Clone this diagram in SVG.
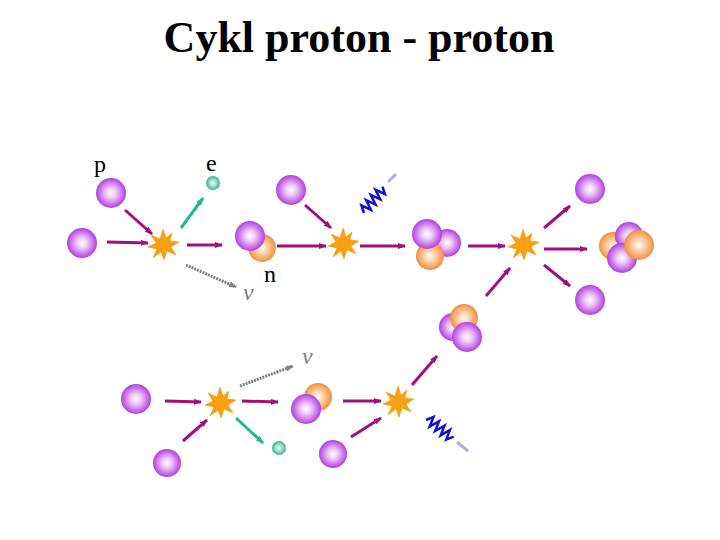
<svg xmlns="http://www.w3.org/2000/svg" width="720" height="540" viewBox="0 0 720 540">
<defs>
<radialGradient id="gp" cx="0.5" cy="0.5" r="0.5"><stop offset="0" stop-color="#fff"/><stop offset="0.35" stop-color="#f0c8f8"/><stop offset="1" stop-color="#b040e0"/></radialGradient>
<radialGradient id="go" cx="0.5" cy="0.5" r="0.5"><stop offset="0" stop-color="#fff"/><stop offset="0.35" stop-color="#fcd8b0"/><stop offset="1" stop-color="#f09040"/></radialGradient>
<radialGradient id="ge" cx="0.5" cy="0.5" r="0.5"><stop offset="0" stop-color="#fff"/><stop offset="1" stop-color="#30b890"/></radialGradient>
<marker id="am" markerWidth="8" markerHeight="6" refX="7" refY="3" orient="auto" markerUnits="userSpaceOnUse"><path d="M0,0L8,3L0,6z" fill="#a0107a"/></marker>
<marker id="at" markerWidth="8" markerHeight="6" refX="7" refY="3" orient="auto" markerUnits="userSpaceOnUse"><path d="M0,0L8,3L0,6z" fill="#20b890"/></marker>
<marker id="ag" markerWidth="8" markerHeight="6" refX="7" refY="3" orient="auto" markerUnits="userSpaceOnUse"><path d="M0,0L8,3L0,6z" fill="#808080"/></marker>
<polygon id="star" points="0,-16 3,-7 9,-12 7,-4 16,-3 8,2 13,10 4,6 1,15 -2,7 -10,13 -6,4 -15,2 -7,-2 -12,-10 -3,-6" fill="#f8a010" stroke="#f09000" stroke-width="0.5"/>
<path id="wave" d="M0,0 l4,-7 l3,10 l4,-10 l3,10 l4,-10 l3,10 l4,-10 l3,10 l4,-7" fill="none" stroke="#1010d0" stroke-width="2.5"/>
</defs>
<style>
.m{stroke:#a0107a;stroke-width:3;marker-end:url(#am)}
.t{stroke:#20b890;stroke-width:3;marker-end:url(#at)}
.g{stroke:#808080;stroke-width:3;stroke-dasharray:2 1;marker-end:url(#ag)}
.lb{font-family:"Liberation Serif",serif;font-size:24px}
</style>
<text x="359" y="52" text-anchor="middle" font-family="Liberation Serif,serif" font-weight="bold" font-size="44">Cykl proton - proton</text>
<g id="labels">
<text class="lb" x="94" y="172">p</text>
<text class="lb" x="206" y="171">e</text>
<text class="lb" x="264" y="282">n</text>
<text class="lb" x="243" y="300" font-style="italic" fill="#808080">ν</text>
<text class="lb" x="302" y="364" font-style="italic" fill="#808080">ν</text>
</g>
<g id="connectors">
<line class="m" x1="125" y1="210" x2="152" y2="234"/>
<line class="m" x1="107" y1="242" x2="148" y2="243"/>
<line class="t" x1="181" y1="228" x2="203" y2="198"/>
<line class="g" x1="186" y1="265" x2="236" y2="287"/>
<line class="m" x1="187" y1="245" x2="222" y2="245"/>
<line class="m" x1="305" y1="205" x2="331" y2="228"/>
<line class="m" x1="277" y1="246" x2="326" y2="246"/>
<line class="m" x1="360" y1="246" x2="405" y2="246"/>
<line class="m" x1="468" y1="246" x2="505" y2="246"/>
<line class="m" x1="486" y1="296" x2="510" y2="268"/>
<line class="m" x1="544" y1="228" x2="570" y2="206"/>
<line class="m" x1="544" y1="249" x2="587" y2="249"/>
<line class="m" x1="544" y1="265" x2="570" y2="286"/>
<line class="m" x1="165" y1="401" x2="201" y2="402"/>
<line class="m" x1="183" y1="441" x2="207" y2="420"/>
<line class="g" x1="240" y1="386" x2="293" y2="366"/>
<line class="t" x1="236" y1="418" x2="263" y2="443"/>
<line class="m" x1="242" y1="401" x2="278" y2="402"/>
<line class="m" x1="343" y1="401" x2="381" y2="401"/>
<line class="m" x1="351" y1="437" x2="381" y2="418"/>
<line class="m" x1="412" y1="385" x2="437" y2="356"/>
<line x1="388" y1="182" x2="396" y2="174" stroke="#b0b0e0" stroke-width="3"/>
<use href="#wave" transform="translate(364,213) rotate(-48)"/>
<line x1="457" y1="442" x2="468" y2="451" stroke="#b0b0e0" stroke-width="3"/>
<use href="#wave" transform="translate(426,420) rotate(38)"/>
</g>
<g id="stars">
<use href="#star" x="163" y="245"/>
<use href="#star" x="343" y="244"/>
<use href="#star" x="523" y="245"/>
<use href="#star" x="220" y="403"/>
<use href="#star" x="398" y="402"/>
</g>
<g id="particles">
<circle cx="111" cy="193" r="15" fill="url(#gp)"/>
<circle cx="82" cy="243" r="15" fill="url(#gp)"/>
<circle cx="213" cy="183" r="7" fill="url(#ge)"/>
<circle cx="262" cy="248" r="14" fill="url(#go)"/>
<circle cx="250" cy="236" r="15" fill="url(#gp)"/>
<circle cx="291" cy="190" r="15" fill="url(#gp)"/>
<circle cx="447" cy="243" r="14" fill="url(#gp)"/>
<circle cx="430" cy="256" r="14" fill="url(#go)"/>
<circle cx="427" cy="234" r="15" fill="url(#gp)"/>
<circle cx="590" cy="189" r="15" fill="url(#gp)"/>
<circle cx="613" cy="246" r="14" fill="url(#go)"/>
<circle cx="629" cy="236" r="14" fill="url(#gp)"/>
<circle cx="622" cy="258" r="15" fill="url(#gp)"/>
<circle cx="639" cy="245" r="15" fill="url(#go)"/>
<circle cx="590" cy="300" r="15" fill="url(#gp)"/>
<circle cx="453" cy="327" r="14" fill="url(#gp)"/>
<circle cx="464" cy="318" r="14" fill="url(#go)"/>
<circle cx="467" cy="337" r="15" fill="url(#gp)"/>
<circle cx="136" cy="399" r="15" fill="url(#gp)"/>
<circle cx="167" cy="463" r="14" fill="url(#gp)"/>
<circle cx="279" cy="448" r="7" fill="url(#ge)"/>
<circle cx="318" cy="397" r="14" fill="url(#go)"/>
<circle cx="306" cy="409" r="15" fill="url(#gp)"/>
<circle cx="333" cy="454" r="14" fill="url(#gp)"/>
</g>
</svg>
